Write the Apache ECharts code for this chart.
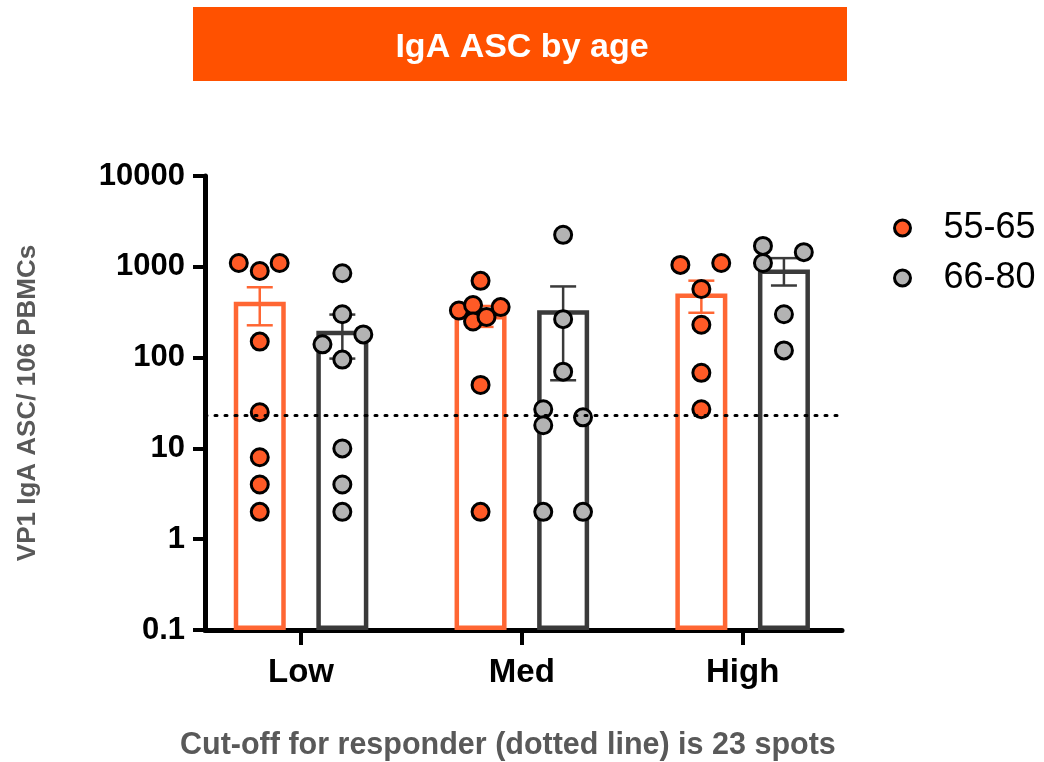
<!DOCTYPE html>
<html>
<head>
<meta charset="utf-8">
<script src="https://cdn.jsdelivr.net/npm/echarts@6/dist/echarts.min.js"></script>
<style>
  html, body { margin: 0; padding: 0; background: #fff; }
  #chart { width: 1044px; height: 762px; }
</style>
</head>
<body>
<div id="chart"></div>
<script>
const categories = ['Low', 'Med', 'High']
const yTickLabels = ['0.1', '1', '10', '100', '1000', '10000']
const groupNames = ['55-65', '66-80']
const cutoff = 23

// individual donors per dose group, 55-65 years
const young = [
  [1100, 900, 1100, 150, 25, 8, 4, 2],
  [700, 330, 380, 360, 250, 280, 50, 2],
  [1050, 1100, 570, 230, 68, 27]
]
// horizontal spread of the dots (axis units), same order as above
const youngSpread = [
  [-0.095, 0, 0.09, 0, 0, 0, 0, 0],
  [0, -0.098, -0.034, 0.091, -0.034, 0.027, 0, 0],
  [-0.095, 0.09, 0, 0, 0, 0]
]
// 66-80 years
const old = [
  [850, 300, 140, 180, 95, 10, 4, 2],
  [2250, 265, 70, 27, 18, 22, 2, 2],
  [1700, 1100, 1450, 300, 120]
]
const oldSpread = [
  [0, 0, -0.09, 0.095, 0, 0, 0, 0],
  [0, 0, 0, -0.09, -0.09, 0.09, -0.09, 0.09],
  [-0.095, -0.095, 0.09, 0, 0]
]

const ORANGE = '#FF6633'
const ORANGE_DOT = '#FF5A26'
const DARK = '#3A3A3A'
const GREY_DOT = '#B3B3B3'
const OFFSET = 0.187
const FONT = '"Liberation Sans", Arial, sans-serif'

function mean(a) { return a.reduce((s, v) => s + v, 0) / a.length }
function sem(a) {
  const m = mean(a)
  const ss = a.reduce((s, v) => s + (v - m) * (v - m), 0)
  return Math.sqrt(ss / (a.length - 1)) / Math.sqrt(a.length)
}

function barData(groups, off) {
  return groups.map((g, i) => [i + off, mean(g)])
}
function errData(groups, off) {
  return groups.map((g, i) => [i + off, mean(g), sem(g)])
}
function dotData(groups, spread, off) {
  const out = []
  groups.forEach((g, i) => g.forEach((v, j) => out.push([i + off + spread[i][j], v])))
  return out
}

function errorSeries(name, data, color) {
  return {
    name,
    type: 'custom',
    z: 3,
    silent: true,
    encode: { x: 0, y: 1 },
    data,
    renderItem(params, api) {
      const x = api.value(0), m = api.value(1), s = api.value(2)
      const top = api.coord([x, m + s])
      const bot = api.coord([x, m - s])
      const half = 13
      const style = { stroke: color, lineWidth: 2.5 }
      return {
        type: 'group',
        children: [
          { type: 'line', shape: { x1: top[0], y1: top[1], x2: bot[0], y2: bot[1] }, style },
          { type: 'line', shape: { x1: top[0] - half, y1: top[1], x2: top[0] + half, y2: top[1] }, style },
          { type: 'line', shape: { x1: bot[0] - half, y1: bot[1], x2: bot[0] + half, y2: bot[1] }, style }
        ]
      }
    }
  }
}

const chart = echarts.init(document.getElementById('chart'), null, { renderer: 'canvas' })

const option = {
  backgroundColor: '#fff',
  animation: false,
  textStyle: { fontFamily: FONT },
  graphic: [{
    type: 'rect',
    z: -1,
    shape: { x: 193, y: 7, width: 654, height: 74 },
    style: { fill: '#FF5100' }
  }],
  title: [{
    text: 'IgA ASC by age',
    left: 'center',
    top: 31,
    padding: 0,
    textStyle: { color: '#fff', fontSize: 34, fontWeight: 'bold', fontFamily: FONT }
  }, {
    text: 'Cut-off for responder (dotted line) is 23 spots',
    left: 180,
    top: 730,
    padding: 0,
    textStyle: { color: '#595959', fontSize: 30.5, fontWeight: 'bold', fontFamily: FONT }
  }],
  legend: {
    data: groupNames,
    orient: 'vertical',
    left: 888,
    top: 205,
    itemWidth: 72,
    itemHeight: 16,
    itemGap: 14,
    icon: 'circle',
    itemStyle: { borderColor: '#000', borderWidth: 3 },
    textStyle: { fontSize: 36, color: '#000', lineHeight: 36, fontFamily: FONT }
  },
  grid: { left: 205, right: 202, top: 176, bottom: 132, outerBoundsMode: 'none' },
  xAxis: {
    type: 'value',
    min: -0.435,
    max: 2.45,
    splitLine: { show: false },
    axisLine: { show: true, lineStyle: { color: '#000', width: 5 } },
    axisTick: { show: true, customValues: [0, 1, 2], length: 15, lineStyle: { color: '#000', width: 4 } },
    axisLabel: {
      customValues: [0, 1, 2],
      formatter: (v) => categories[Math.round(v)],
      margin: 26,
      color: '#000',
      fontSize: 33,
      fontWeight: 'bold'
    }
  },
  yAxis: {
    type: 'log',
    logBase: 10,
    min: 0.1,
    max: 10000,
    startValue: 0.1,
    name: 'VP1 IgA ASC/ 106 PBMCs',
    nameLocation: 'middle',
    nameGap: 164,
    nameTextStyle: { color: '#595959', fontSize: 26, fontWeight: 'bold' },
    splitLine: { show: false },
    axisLine: { show: true, onZero: false, lineStyle: { color: '#000', width: 5 } },
    axisTick: { show: true, length: 12, lineStyle: { color: '#000', width: 4 } },
    axisLabel: {
      formatter: (v, i) => yTickLabels[i],
      margin: 20,
      color: '#000',
      fontSize: 31,
      fontWeight: 'bold'
    }
  },
  series: [
    {
      name: 'mean 55-65',
      type: 'bar',
      z: 2,
      barWidth: 52,
      barGap: '-100%',
      data: barData(young, -OFFSET),
      itemStyle: { color: 'rgba(0,0,0,0)', borderColor: ORANGE, borderWidth: 4.5 },
      markLine: {
        silent: true,
        symbol: 'none',
        label: { show: false },
        lineStyle: { color: '#000', type: [2, 8], width: 3, cap: 'round' },
        data: [{ yAxis: cutoff }]
      }
    },
    {
      name: 'mean 66-80',
      type: 'bar',
      z: 2,
      barWidth: 52,
      barGap: '-100%',
      data: barData(old, OFFSET),
      itemStyle: { color: 'rgba(0,0,0,0)', borderColor: DARK, borderWidth: 4.5 }
    },
    errorSeries('sem 55-65', errData(young, -OFFSET), ORANGE),
    errorSeries('sem 66-80', errData(old, OFFSET), DARK),
    {
      name: groupNames[0],
      type: 'scatter',
      z: 4,
      symbolSize: 17,
      data: dotData(young, youngSpread, -OFFSET),
      itemStyle: { color: ORANGE_DOT, borderColor: '#000', borderWidth: 3, opacity: 1 }
    },
    {
      name: groupNames[1],
      type: 'scatter',
      z: 4,
      symbolSize: 17,
      data: dotData(old, oldSpread, OFFSET),
      itemStyle: { color: GREY_DOT, borderColor: '#000', borderWidth: 3, opacity: 1 }
    }
  ]
}

chart.setOption(option)
</script>
</body>
</html>
